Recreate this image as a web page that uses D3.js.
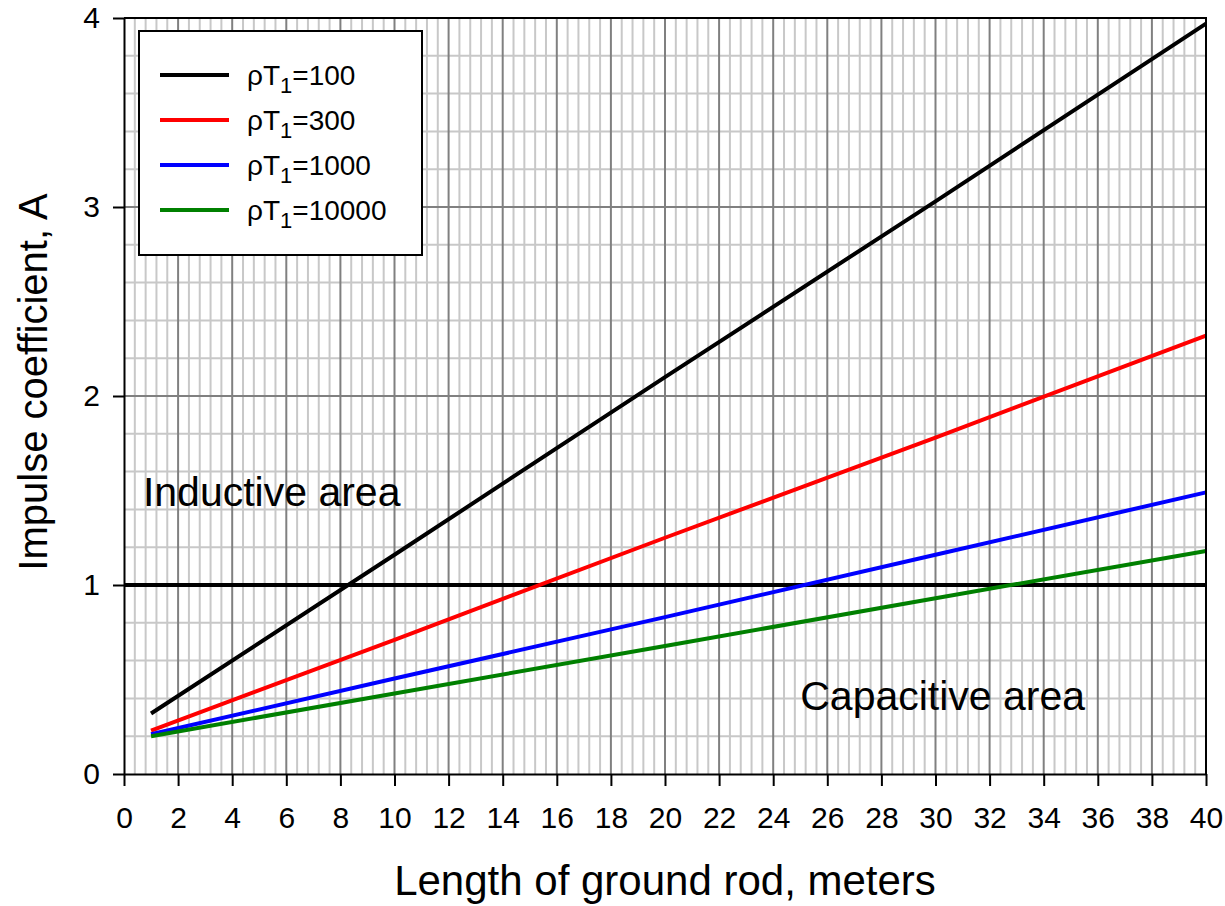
<!DOCTYPE html>
<html>
<head>
<meta charset="utf-8">
<script src="https://cdn.jsdelivr.net/npm/d3@7"></script>
<style>
    body { margin: 0; background: #fff; }
    text { font-family: "Liberation Sans", Arial, sans-serif; fill: #000; }
</style>
</head>
<body>
<div id="chart"></div>
<script>
// Data
const rodLength = [1, 10, 20, 30, 40];
const rho100 = [0.32, 1.16, 2.10, 3.03, 3.97];
const rho300 = [0.23, 0.71, 1.25, 1.78, 2.32];
const rho1000 = [0.21, 0.505, 0.83, 1.16, 1.49];
const rho10000 = [0.20, 0.426, 0.677, 0.93, 1.18];
const seriesNames = ["100", "300", "1000", "10000"];
const seriesColors = ["#000000", "#ff0000", "#0000ff", "#008000"];
const xTicks = d3.range(0, 41, 2);
const yTicks = [0, 1, 2, 3, 4];

(function () {
    const width = 1225;
    const height = 906;
    const margin = { top: 18, right: 19, bottom: 132, left: 124 };
    const w = width - margin.left - margin.right;
    const h = height - margin.top - margin.bottom;

    const series = [rho100, rho300, rho1000, rho10000].map((vals, k) => ({
        name: seriesNames[k],
        color: seriesColors[k],
        points: vals.map((v, i) => ({ x: rodLength[i], y: v }))
    }));

    const svg = d3.select("#chart")
        .append("svg")
        .attr("width", width)
        .attr("height", height)
        .append("g")
        .attr("transform", `translate(${margin.left},${margin.top})`);

    const x = d3.scaleLinear().domain([0, 40]).range([0, w]);
    const y = d3.scaleLinear().domain([0, 4]).range([h, 0]);

    // minor grid (0.4 m and 0.2 steps)
    const grid = svg.append("g");
    grid.selectAll(".vminor")
        .data(d3.range(0, 40.001, 0.4).filter(v => Math.abs(v / 2 - Math.round(v / 2)) > 1e-6))
        .enter().append("line")
        .attr("x1", d => x(d)).attr("x2", d => x(d))
        .attr("y1", 0).attr("y2", h)
        .style("stroke", "#c8c8c8").style("stroke-width", 2);
    grid.selectAll(".hminor")
        .data(d3.range(0, 4.001, 0.2).filter(v => Math.abs(v - Math.round(v)) > 1e-6))
        .enter().append("line")
        .attr("x1", 0).attr("x2", w)
        .attr("y1", d => y(d)).attr("y2", d => y(d))
        .style("stroke", "#c8c8c8").style("stroke-width", 2);
    // major grid
    grid.selectAll(".vmajor")
        .data(xTicks.slice(1, -1))
        .enter().append("line")
        .attr("x1", d => x(d)).attr("x2", d => x(d))
        .attr("y1", 0).attr("y2", h)
        .style("stroke", "#808080").style("stroke-width", 2);
    grid.selectAll(".hmajor")
        .data(yTicks.slice(1, -1))
        .enter().append("line")
        .attr("x1", 0).attr("x2", w)
        .attr("y1", d => y(d)).attr("y2", d => y(d))
        .style("stroke", "#808080").style("stroke-width", 2);

    // A = 1 boundary
    svg.append("line")
        .attr("x1", 0).attr("x2", w)
        .attr("y1", y(1)).attr("y2", y(1))
        .style("stroke", "#000").style("stroke-width", 4);

    // series lines
    const line = d3.line().x(d => x(d.x)).y(d => y(d.y));
    svg.append("g")
        .selectAll("path")
        .data(series)
        .enter().append("path")
        .attr("d", d => line(d.points))
        .style("fill", "none")
        .style("stroke", d => d.color)
        .style("stroke-width", 4);

    // border top/right
    svg.append("path")
        .attr("d", `M0,0H${w}V${h}`)
        .style("fill", "none").style("stroke", "#000").style("stroke-width", 2);

    // axes
    const xAxis = svg.append("g")
        .attr("transform", `translate(0,${h})`)
        .call(d3.axisBottom(x).tickValues(xTicks).tickSize(12).tickPadding(21).tickSizeOuter(0));
    xAxis.selectAll("text").style("font-size", "30px").attr("dy", "0.71em");
    const yAxis = svg.append("g")
        .call(d3.axisLeft(y).tickValues(yTicks).tickSize(11).tickPadding(13).tickSizeOuter(0).tickFormat(d3.format("d")));
    yAxis.selectAll("text").style("font-size", "30px");
    svg.selectAll(".domain").style("stroke", "#000").style("stroke-width", 2);
    svg.selectAll(".tick line").style("stroke", "#000").style("stroke-width", 2);
    svg.selectAll(".tick text").style("font-family", "'Liberation Sans', Arial, sans-serif").style("fill", "#000");

    // axis titles
    svg.append("text")
        .attr("x", w / 2)
        .attr("y", h + 121)
        .attr("text-anchor", "middle")
        .style("font-size", "42px")
        .text("Length of ground rod, meters");
    svg.append("text")
        .attr("transform", `translate(${47 - margin.left},${364}) rotate(-90)`)
        .attr("text-anchor", "middle")
        .style("font-size", "40px")
        .text("Impulse coefficient, A");

    // area labels
    svg.append("text")
        .attr("x", x(0.7)).attr("y", y(1.42))
        .style("font-size", "41px")
        .text("Inductive area");
    svg.append("text")
        .attr("x", x(25)).attr("y", y(0.34))
        .style("font-size", "41px")
        .text("Capacitive area");

    // legend
    const legend = svg.append("g").attr("transform", `translate(${139 - margin.left},${31 - margin.top})`);
    legend.append("rect")
        .attr("width", 283).attr("height", 224)
        .style("fill", "#fff").style("stroke", "#000").style("stroke-width", 2);
    const item = legend.selectAll(".item")
        .data(series)
        .enter().append("g")
        .attr("transform", (d, i) => `translate(0,${44 + i * 45})`);
    item.append("line")
        .attr("x1", 21).attr("x2", 90)
        .style("stroke", d => d.color).style("stroke-width", 4);
    const label = item.append("text")
        .attr("x", 108).attr("y", 10)
        .style("font-size", "28px");
    label.append("tspan").text("ρT");
    label.append("tspan").attr("dy", 8).style("font-size", "22px").text("1");
    label.append("tspan").attr("dy", -8).text(d => "=" + d.name);
})();
</script>
</body>
</html>
